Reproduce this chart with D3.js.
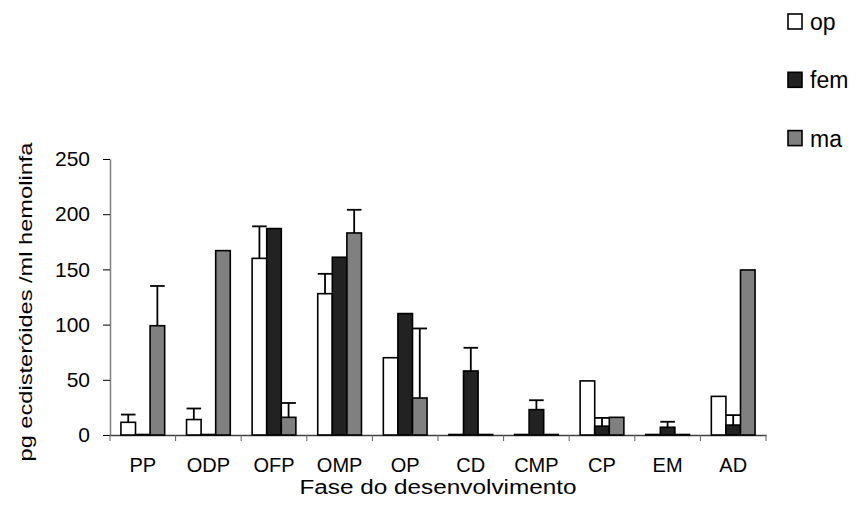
<!DOCTYPE html>
<html>
<head>
<meta charset="utf-8">
<script src="https://cdn.jsdelivr.net/npm/d3@7"></script>
<style>
  body { margin: 0; background: #fff; }
  text { font-family: "Liberation Sans", Arial, sans-serif; fill: #000; }
</style>
</head>
<body>
<svg id="chart"></svg>
<script>
var categories = ["PP", "ODP", "OFP", "OMP", "OP", "CD", "CMP", "CP", "EM", "AD"]
var seriesNames = ["op", "fem", "ma"]
var opValues = [11.5, 14, 160, 128, 70, 0, 0, 49, 0, 35]
var femValues = [0, 0, 187, 161, 110, 58, 23, 8, 7, 9]
var maValues = [99, 167, 16, 183, 33.5, 0, 0, 16, 0, 149.5]
// error (upper part only), null = no bar drawn
var opErr = [7, 10, 29, 18, null, null, null, null, null, null]
var femErr = [null, null, null, null, null, 21, 8.5, 7.5, 5, 9]
var maErr = [36, null, 13, 21, 63, null, null, null, null, null]
var yTicks = [0, 50, 100, 150, 200, 250]
var colors = ["#ffffff", "#222222", "#808080"]

var width = 856,
    height = 517
var svg = d3.select("#chart").attr("width", width).attr("height", height)

var x0 = d3.scaleBand().domain(categories).range([110, 766])
var x1 = d3.scaleBand().domain(seriesNames).range([0, x0.bandwidth()])
    .paddingInner(0).paddingOuter(0.75)
var y = d3.scaleLinear().domain([0, 250]).range([435, 159])

var values = [opValues, femValues, maValues]
var errs = [opErr, femErr, maErr]
var bars = []
seriesNames.forEach(function (s, i) {
    categories.forEach(function (c, j) {
        bars.push({ series: s, idx: i, cat: c, value: values[i][j], err: errs[i][j] })
    })
})

// y axis
var yAxis = svg.append("g")
    .attr("transform", "translate(110,0)")
    .call(d3.axisLeft(y).tickValues(yTicks).tickSizeInner(7).tickSizeOuter(0).tickPadding(13))
yAxis.select(".domain").attr("stroke", "#808080").attr("stroke-width", 1.5)
yAxis.selectAll(".tick line").attr("stroke", "#000")
yAxis.selectAll(".tick text").attr("font-size", 21)

// x axis
var xAxis = svg.append("g")
    .attr("transform", "translate(0,435)")
    .call(d3.axisBottom(x0).tickSize(0).tickPadding(23))
xAxis.select(".domain").attr("stroke", "#404040").attr("stroke-width", 1.5)
xAxis.selectAll(".tick text").attr("font-size", 20)
// tick marks sit between categories
svg.append("g").selectAll("line")
    .data(categories.concat(["end"]))
    .enter().append("line")
    .attr("x1", function (d, i) { return i < categories.length ? x0(d) : x0.range()[1] })
    .attr("x2", function (d, i) { return i < categories.length ? x0(d) : x0.range()[1] })
    .attr("y1", y(0))
    .attr("y2", y(0) + 6)
    .attr("stroke", "#606060")
    .attr("stroke-width", 1)

// bars
svg.append("g").selectAll("rect")
    .data(bars)
    .enter().append("rect")
    .attr("x", function (d) { return x0(d.cat) + x1(d.series) })
    .attr("y", function (d) { return y(d.value) - (d.value === 0 ? 0.5 : 0) })
    .attr("width", x1.bandwidth())
    .attr("height", function (d) { return Math.max(0.5, y(0) - y(d.value)) })
    .attr("fill", function (d) { return colors[d.idx] })
    .attr("stroke", "#000")
    .attr("stroke-width", 1.6)

// error bars
var eb = svg.append("g").selectAll("g")
    .data(bars.filter(function (d) { return d.err != null }))
    .enter().append("g")
eb.append("line")
    .attr("x1", function (d) { return x0(d.cat) + x1(d.series) + x1.bandwidth() / 2 })
    .attr("x2", function (d) { return x0(d.cat) + x1(d.series) + x1.bandwidth() / 2 })
    .attr("y1", function (d) { return y(d.value) })
    .attr("y2", function (d) { return y(d.value + d.err) })
    .attr("stroke", "#000")
    .attr("stroke-width", 1.8)
eb.append("line")
    .attr("x1", function (d) { return x0(d.cat) + x1(d.series) })
    .attr("x2", function (d) { return x0(d.cat) + x1(d.series) + x1.bandwidth() })
    .attr("y1", function (d) { return y(d.value + d.err) })
    .attr("y2", function (d) { return y(d.value + d.err) })
    .attr("stroke", "#000")
    .attr("stroke-width", 1.8)

// axis titles
svg.append("text")
    .attr("x", 438)
    .attr("y", 494)
    .attr("text-anchor", "middle")
    .attr("font-size", 20)
    .attr("textLength", 277)
    .attr("lengthAdjust", "spacingAndGlyphs")
    .text("Fase do desenvolvimento")

svg.append("text")
    .attr("transform", "translate(32,302) rotate(-90)")
    .attr("text-anchor", "middle")
    .attr("font-size", 19)
    .attr("textLength", 319)
    .attr("lengthAdjust", "spacingAndGlyphs")
    .text("pg ecdisteróides /ml hemolinfa")

// legend
var legend = svg.append("g").selectAll("g")
    .data(seriesNames)
    .enter().append("g")
    .attr("transform", function (d, i) { return "translate(788," + (14 + i * 58.3) + ")" })
legend.append("rect")
    .attr("width", 14)
    .attr("height", 15)
    .attr("fill", function (d, i) { return colors[i] })
    .attr("stroke", "#000")
    .attr("stroke-width", 1.6)
legend.append("text")
    .attr("x", 22)
    .attr("y", 16)
    .attr("font-size", 23)
    .text(function (d) { return d })
</script>
</body>
</html>
